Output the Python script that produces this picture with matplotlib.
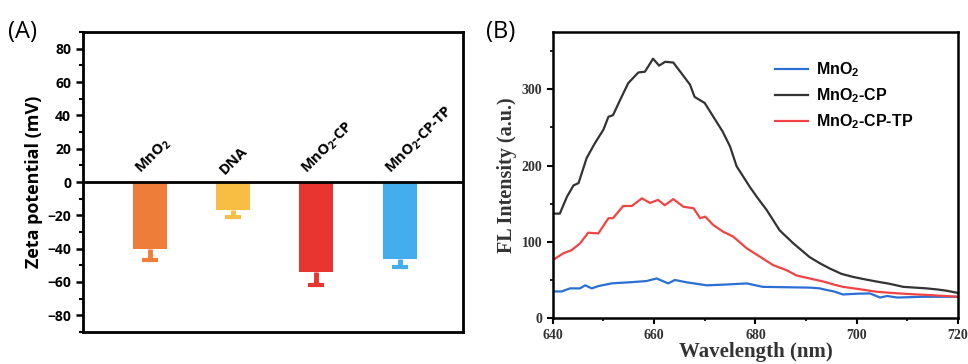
import numpy as np
import matplotlib
matplotlib.use("Agg")
import matplotlib.pyplot as plt
from matplotlib import rc
from matplotlib.ticker import MultipleLocator

# text:
rc('mathtext', default='regular')

# panel A: zeta potential
samples = ["MnO$_2$", "DNA", "MnO$_2$-CP", "MnO$_2$-CP-TP"]
zeta = [-40.5, -17, -54, -46]
zeta_err = [6.5, 4, 8, 5]
bar_colors = ["#ee7d3a", "#f8bd43", "#e9352f", "#43adee"]

# panel B: fluorescence spectra
wl_mno2 = [640, 641.8, 643.4, 645.4, 646.4, 647.7, 649, 651.6, 652.6, 655.2, 658.5,
           660.5, 662.8, 664.1, 666.4, 670.4, 674, 678.3, 681.5, 686, 690.8, 692.7,
           694, 695.5, 697.3, 700, 702.6, 704.6, 706, 708, 710.5, 713, 716, 720]
fl_mno2 = [35, 35, 39, 39, 43, 39, 42, 45.5, 46, 47, 48.6,
           52, 45.5, 50, 47, 43, 44, 45.5, 41, 40.5, 40, 39,
           37, 35, 31, 32, 32.4, 27, 29, 27, 27.5, 28, 28, 28]

wl_cp = [640, 641.4, 642.8, 644.1, 645.1, 646.7, 648.3, 650, 651, 651.9, 653.3,
         654.9, 656.9, 658.2, 659.8, 661, 662.2, 663.8, 665.4, 667.1, 668, 670,
         671.7, 673.5, 675, 676.3, 678.9, 680.5, 682.2, 684.8, 687.5, 690.7, 692.7,
         694.7, 697, 699.3, 701.5, 703.9, 706.5, 709.2, 711.5, 713.8, 716, 717.7, 720]
fl_cp = [137, 137, 159, 174, 177, 210, 229, 247, 264, 266, 286,
         308, 322, 323, 340, 331, 336, 335, 321, 306, 290, 282,
         264, 245, 225, 199, 172, 157, 142, 115, 98, 80, 72,
         65, 58, 54, 51, 48, 45, 41, 40, 39, 37.5, 36, 33]

wl_tp = [640, 642.1, 643.7, 645.4, 647, 649, 651, 651.9, 653.9, 655.6, 657.6,
         659.2, 660.8, 662.1, 663.8, 665.8, 667.8, 669.1, 670.1, 671.7, 673.7,
         675.6, 678.3, 680.9, 683.5, 686.1, 688.1, 690.7, 693.4, 695.5, 697.3,
         700.5, 703.9, 707, 710.5, 715, 720]
fl_tp = [76, 85, 89, 98, 112, 111, 131, 131, 147, 147, 157,
         151, 155, 148, 156, 146, 144, 131, 133, 122, 113,
         107, 91.5, 80.5, 69.5, 63, 56, 52, 48, 44, 41,
         38, 34.6, 33, 31.5, 30, 28]

fig = plt.figure(figsize=(9.68, 3.64), dpi=100)

# ---------------- (A) ----------------
axA = fig.add_axes([0.0857, 0.088, 0.3926, 0.824])
x = np.arange(len(samples))
axA.bar(x, zeta, width=0.41, color=bar_colors, zorder=2)
for i in range(len(samples)):
    # only the lower half of the error bar is drawn
    axA.errorbar(x[i], zeta[i], yerr=[[zeta_err[i]], [0]], fmt="none",
                 ecolor=bar_colors[i], elinewidth=3.5, capsize=0, zorder=2)
    axA.plot(x[i], zeta[i] - zeta_err[i], marker="_", markersize=11, mew=3,
             color=bar_colors[i], zorder=2)
    axA.text(x[i] - 0.07, 3, samples[i], rotation=45, rotation_mode="anchor",
             ha="left", va="bottom", fontsize=10.5, fontweight="bold",
             family="Open Sans")
axA.axhline(0, color="k", lw=2, zorder=3)
axA.set_xlim(-0.8, 3.76)
axA.set_ylim(-90, 90)
axA.set_yticks(np.arange(-80, 81, 20))
axA.yaxis.set_minor_locator(MultipleLocator(10))
axA.set_xticks([])
axA.tick_params(axis="y", which="major", direction="out", length=5, width=1.8)
axA.tick_params(axis="y", which="minor", direction="out", length=3, width=1.5)
for lab in axA.get_yticklabels():
    lab.set_fontweight("bold")
    lab.set_fontsize(10)
    lab.set_family("Open Sans")
for s in axA.spines.values():
    s.set_linewidth(2)
axA.set_ylabel("Zeta potential (mV)", fontsize=13, fontweight="bold",
               family="Open Sans", labelpad=3)
fig.text(0.008, 0.895, "(A)", fontsize=17, family="Open Sans")

# ---------------- (B) ----------------
axB = fig.add_axes([0.571, 0.126, 0.4187, 0.786])
axB.plot(wl_mno2, fl_mno2, color="#2b6fd3", lw=1.6, label="MnO$_2$")
axB.plot(wl_cp, fl_cp, color="#333333", lw=1.6, label="MnO$_2$-CP")
axB.plot(wl_tp, fl_tp, color="#f04444", lw=1.6, label="MnO$_2$-CP-TP")
axB.set_xlim(640, 720)
axB.set_ylim(0, 375)
axB.set_xticks(np.arange(640, 721, 20))
axB.set_yticks([0, 100, 200, 300])
axB.xaxis.set_minor_locator(MultipleLocator(10))
axB.yaxis.set_minor_locator(MultipleLocator(50))
axB.tick_params(which="major", direction="out", length=4, width=1.5)
axB.tick_params(which="minor", direction="out", length=2.5, width=1.2)
for lab in axB.get_xticklabels() + axB.get_yticklabels():
    lab.set_fontweight("bold")
    lab.set_fontsize(10)
    lab.set_family("Liberation Serif")
    lab.set_color("#333333")
for s in axB.spines.values():
    s.set_linewidth(1.8)
axB.set_xlabel("Wavelength (nm)", fontsize=15, fontweight="bold",
               family="Liberation Serif", labelpad=0, color="#333333")
axB.set_ylabel("FL Intensity (a.u.)", fontsize=14.5, fontweight="bold",
               family="Liberation Serif", labelpad=3, color="#333333")
leg = axB.legend(loc="upper right", bbox_to_anchor=(0.925, 0.95), frameon=False,
                 handlelength=2.1, handletextpad=0.5, labelspacing=0.45,
                 prop={"family": "Liberation Sans", "weight": "bold", "size": 11.5})
fig.text(0.502, 0.895, "(B)", fontsize=17, family="Open Sans")

fig.savefig("out.png", dpi=100)
